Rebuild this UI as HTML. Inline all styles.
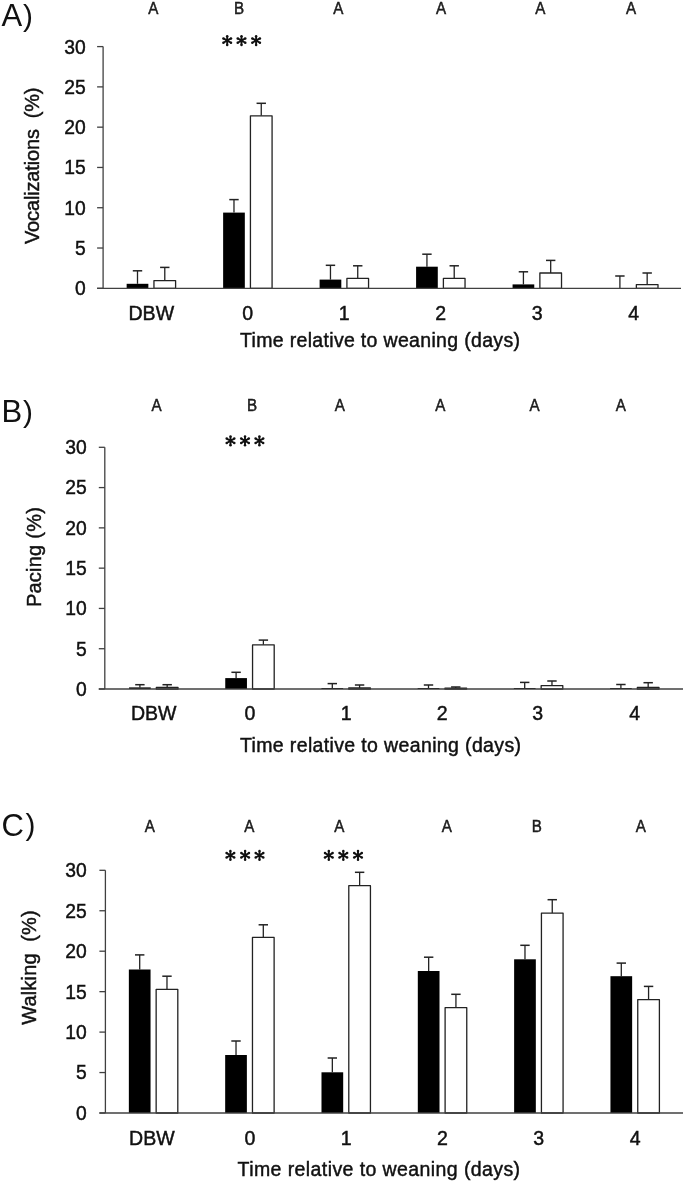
<!DOCTYPE html>
<html><head><meta charset="utf-8"><style>
html,body{margin:0;padding:0;background:#fff;}
body{width:685px;height:1183px;overflow:hidden;}
svg{display:block;font-family:"Liberation Sans", sans-serif;filter:blur(0.45px);}
text{stroke:#111;stroke-width:0.45px;}
</style></head><body>
<svg width="685" height="1183" viewBox="0 0 685 1183">
<rect width="685" height="1183" fill="#fff"/>
<text x="1.5" y="25.9" font-size="31" fill="#111" style="stroke-width:0">A</text>
<text x="23.1" y="25.599999999999998" font-size="29.8" fill="#111" style="stroke-width:0">)</text>
<text transform="translate(153.2,13.8) scale(0.92,1)" font-size="16.5" text-anchor="middle" fill="#222">A</text>
<text transform="translate(239.1,13.8) scale(0.92,1)" font-size="16.5" text-anchor="middle" fill="#222">B</text>
<text transform="translate(338.4,13.8) scale(0.92,1)" font-size="16.5" text-anchor="middle" fill="#222">A</text>
<text transform="translate(441.1,13.8) scale(0.92,1)" font-size="16.5" text-anchor="middle" fill="#222">A</text>
<text transform="translate(540.2,13.8) scale(0.92,1)" font-size="16.5" text-anchor="middle" fill="#222">A</text>
<text transform="translate(631.1,13.8) scale(0.92,1)" font-size="16.5" text-anchor="middle" fill="#222">A</text>
<path d="M227.20,36.20L227.20,45.00M223.39,38.40L231.01,42.80M231.01,38.40L223.39,42.80" stroke="#111" stroke-width="1.9"/><circle cx="227.2" cy="40.6" r="1.5" fill="#111"/><circle cx="227.20" cy="36.20" r="1.25" fill="#111"/><circle cx="227.20" cy="45.00" r="1.25" fill="#111"/><circle cx="223.39" cy="38.40" r="1.25" fill="#111"/><circle cx="231.01" cy="42.80" r="1.25" fill="#111"/><circle cx="231.01" cy="38.40" r="1.25" fill="#111"/><circle cx="223.39" cy="42.80" r="1.25" fill="#111"/>
<path d="M241.50,36.20L241.50,45.00M237.69,38.40L245.31,42.80M245.31,38.40L237.69,42.80" stroke="#111" stroke-width="1.9"/><circle cx="241.5" cy="40.6" r="1.5" fill="#111"/><circle cx="241.50" cy="36.20" r="1.25" fill="#111"/><circle cx="241.50" cy="45.00" r="1.25" fill="#111"/><circle cx="237.69" cy="38.40" r="1.25" fill="#111"/><circle cx="245.31" cy="42.80" r="1.25" fill="#111"/><circle cx="245.31" cy="38.40" r="1.25" fill="#111"/><circle cx="237.69" cy="42.80" r="1.25" fill="#111"/>
<path d="M256.10,36.20L256.10,45.00M252.29,38.40L259.91,42.80M259.91,38.40L252.29,42.80" stroke="#111" stroke-width="1.9"/><circle cx="256.1" cy="40.6" r="1.5" fill="#111"/><circle cx="256.10" cy="36.20" r="1.25" fill="#111"/><circle cx="256.10" cy="45.00" r="1.25" fill="#111"/><circle cx="252.29" cy="38.40" r="1.25" fill="#111"/><circle cx="259.91" cy="42.80" r="1.25" fill="#111"/><circle cx="259.91" cy="38.40" r="1.25" fill="#111"/><circle cx="252.29" cy="42.80" r="1.25" fill="#111"/>
<line x1="103.1" y1="46.6" x2="103.1" y2="288.3" stroke="#404040" stroke-width="1.3"/>
<line x1="97.1" y1="288.30" x2="103.1" y2="288.30" stroke="#404040" stroke-width="1.3"/>
<text transform="translate(85.8,295.20) scale(1.0,1)" font-size="19.3" text-anchor="end" fill="#111">0</text>
<line x1="97.1" y1="248.02" x2="103.1" y2="248.02" stroke="#404040" stroke-width="1.3"/>
<text transform="translate(85.8,254.92) scale(1.0,1)" font-size="19.3" text-anchor="end" fill="#111">5</text>
<line x1="97.1" y1="207.73" x2="103.1" y2="207.73" stroke="#404040" stroke-width="1.3"/>
<text transform="translate(85.8,214.63) scale(1.0,1)" font-size="19.3" text-anchor="end" fill="#111">10</text>
<line x1="97.1" y1="167.45" x2="103.1" y2="167.45" stroke="#404040" stroke-width="1.3"/>
<text transform="translate(85.8,174.35) scale(1.0,1)" font-size="19.3" text-anchor="end" fill="#111">15</text>
<line x1="97.1" y1="127.17" x2="103.1" y2="127.17" stroke="#404040" stroke-width="1.3"/>
<text transform="translate(85.8,134.07) scale(1.0,1)" font-size="19.3" text-anchor="end" fill="#111">20</text>
<line x1="97.1" y1="86.88" x2="103.1" y2="86.88" stroke="#404040" stroke-width="1.3"/>
<text transform="translate(85.8,93.78) scale(1.0,1)" font-size="19.3" text-anchor="end" fill="#111">25</text>
<line x1="97.1" y1="46.60" x2="103.1" y2="46.60" stroke="#404040" stroke-width="1.3"/>
<text transform="translate(85.8,53.50) scale(1.0,1)" font-size="19.3" text-anchor="end" fill="#111">30</text>
<text transform="translate(39.0,244.0) rotate(-90)" x="0" y="0" font-size="20" fill="#111" textLength="156.5" lengthAdjust="spacing">Vocalizations  (%)</text>
<line x1="137.50" y1="283.80" x2="137.50" y2="270.80" stroke="#222" stroke-width="1.3"/>
<line x1="132.80" y1="270.80" x2="142.20" y2="270.80" stroke="#222" stroke-width="1.5"/>
<line x1="164.78" y1="280.60" x2="164.78" y2="267.40" stroke="#222" stroke-width="1.3"/>
<line x1="160.08" y1="267.40" x2="169.48" y2="267.40" stroke="#222" stroke-width="1.5"/>
<rect x="126.65" y="283.80" width="21.70" height="4.50" fill="#000"/>
<rect x="153.95" y="280.60" width="21.65" height="7.70" fill="#fff" stroke="#222" stroke-width="1.3" stroke-linejoin="round"/>
<text transform="translate(151.30,319.7) scale(1.013,1)" font-size="19.3" text-anchor="middle" fill="#111">DBW</text>
<line x1="233.98" y1="212.60" x2="233.98" y2="199.60" stroke="#222" stroke-width="1.3"/>
<line x1="229.28" y1="199.60" x2="238.68" y2="199.60" stroke="#222" stroke-width="1.5"/>
<line x1="261.26" y1="115.80" x2="261.26" y2="103.30" stroke="#222" stroke-width="1.3"/>
<line x1="256.56" y1="103.30" x2="265.96" y2="103.30" stroke="#222" stroke-width="1.5"/>
<rect x="223.13" y="212.60" width="21.70" height="75.70" fill="#000"/>
<rect x="250.43" y="115.80" width="21.65" height="172.50" fill="#fff" stroke="#222" stroke-width="1.3" stroke-linejoin="round"/>
<text transform="translate(247.78,319.7) scale(1.013,1)" font-size="19.3" text-anchor="middle" fill="#111">0</text>
<line x1="330.46" y1="279.60" x2="330.46" y2="265.30" stroke="#222" stroke-width="1.3"/>
<line x1="325.76" y1="265.30" x2="335.16" y2="265.30" stroke="#222" stroke-width="1.5"/>
<line x1="357.74" y1="278.40" x2="357.74" y2="265.80" stroke="#222" stroke-width="1.3"/>
<line x1="353.04" y1="265.80" x2="362.44" y2="265.80" stroke="#222" stroke-width="1.5"/>
<rect x="319.61" y="279.60" width="21.70" height="8.70" fill="#000"/>
<rect x="346.91" y="278.40" width="21.65" height="9.90" fill="#fff" stroke="#222" stroke-width="1.3" stroke-linejoin="round"/>
<text transform="translate(344.26,319.7) scale(1.013,1)" font-size="19.3" text-anchor="middle" fill="#111">1</text>
<line x1="426.94" y1="266.70" x2="426.94" y2="254.20" stroke="#222" stroke-width="1.3"/>
<line x1="422.24" y1="254.20" x2="431.64" y2="254.20" stroke="#222" stroke-width="1.5"/>
<line x1="454.22" y1="278.40" x2="454.22" y2="265.80" stroke="#222" stroke-width="1.3"/>
<line x1="449.52" y1="265.80" x2="458.92" y2="265.80" stroke="#222" stroke-width="1.5"/>
<rect x="416.09" y="266.70" width="21.70" height="21.60" fill="#000"/>
<rect x="443.39" y="278.40" width="21.65" height="9.90" fill="#fff" stroke="#222" stroke-width="1.3" stroke-linejoin="round"/>
<text transform="translate(440.74,319.7) scale(1.013,1)" font-size="19.3" text-anchor="middle" fill="#111">2</text>
<line x1="523.42" y1="284.40" x2="523.42" y2="271.80" stroke="#222" stroke-width="1.3"/>
<line x1="518.72" y1="271.80" x2="528.12" y2="271.80" stroke="#222" stroke-width="1.5"/>
<line x1="550.69" y1="273.00" x2="550.69" y2="260.40" stroke="#222" stroke-width="1.3"/>
<line x1="545.99" y1="260.40" x2="555.39" y2="260.40" stroke="#222" stroke-width="1.5"/>
<rect x="512.57" y="284.40" width="21.70" height="3.90" fill="#000"/>
<rect x="539.87" y="273.00" width="21.65" height="15.30" fill="#fff" stroke="#222" stroke-width="1.3" stroke-linejoin="round"/>
<text transform="translate(537.22,319.7) scale(1.013,1)" font-size="19.3" text-anchor="middle" fill="#111">3</text>
<line x1="619.90" y1="288.30" x2="619.90" y2="276.00" stroke="#222" stroke-width="1.3"/>
<line x1="615.20" y1="276.00" x2="624.60" y2="276.00" stroke="#222" stroke-width="1.5"/>
<line x1="647.17" y1="284.60" x2="647.17" y2="273.00" stroke="#222" stroke-width="1.3"/>
<line x1="642.47" y1="273.00" x2="651.88" y2="273.00" stroke="#222" stroke-width="1.5"/>
<rect x="636.35" y="284.60" width="21.65" height="3.70" fill="#fff" stroke="#222" stroke-width="1.3" stroke-linejoin="round"/>
<text transform="translate(633.70,319.7) scale(1.013,1)" font-size="19.3" text-anchor="middle" fill="#111">4</text>
<line x1="97.1" y1="288.3" x2="681" y2="288.3" stroke="#404040" stroke-width="1.3"/>
<text x="240.0" y="347.0" font-size="19.5" fill="#111" textLength="280.0" lengthAdjust="spacing">Time relative to weaning (days)</text>
<text x="1.5" y="421.8" font-size="31" fill="#111" style="stroke-width:0">B</text>
<text x="23.1" y="421.5" font-size="29.8" fill="#111" style="stroke-width:0">)</text>
<text transform="translate(156.6,411.2) scale(0.92,1)" font-size="16.5" text-anchor="middle" fill="#222">A</text>
<text transform="translate(252.0,411.2) scale(0.92,1)" font-size="16.5" text-anchor="middle" fill="#222">B</text>
<text transform="translate(339.7,411.2) scale(0.92,1)" font-size="16.5" text-anchor="middle" fill="#222">A</text>
<text transform="translate(440.2,411.2) scale(0.92,1)" font-size="16.5" text-anchor="middle" fill="#222">A</text>
<text transform="translate(534.6,411.2) scale(0.92,1)" font-size="16.5" text-anchor="middle" fill="#222">A</text>
<text transform="translate(620.9,411.2) scale(0.92,1)" font-size="16.5" text-anchor="middle" fill="#222">A</text>
<path d="M230.50,436.40L230.50,445.20M226.69,438.60L234.31,443.00M234.31,438.60L226.69,443.00" stroke="#111" stroke-width="1.9"/><circle cx="230.5" cy="440.8" r="1.5" fill="#111"/><circle cx="230.50" cy="436.40" r="1.25" fill="#111"/><circle cx="230.50" cy="445.20" r="1.25" fill="#111"/><circle cx="226.69" cy="438.60" r="1.25" fill="#111"/><circle cx="234.31" cy="443.00" r="1.25" fill="#111"/><circle cx="234.31" cy="438.60" r="1.25" fill="#111"/><circle cx="226.69" cy="443.00" r="1.25" fill="#111"/>
<path d="M245.00,436.40L245.00,445.20M241.19,438.60L248.81,443.00M248.81,438.60L241.19,443.00" stroke="#111" stroke-width="1.9"/><circle cx="245.0" cy="440.8" r="1.5" fill="#111"/><circle cx="245.00" cy="436.40" r="1.25" fill="#111"/><circle cx="245.00" cy="445.20" r="1.25" fill="#111"/><circle cx="241.19" cy="438.60" r="1.25" fill="#111"/><circle cx="248.81" cy="443.00" r="1.25" fill="#111"/><circle cx="248.81" cy="438.60" r="1.25" fill="#111"/><circle cx="241.19" cy="443.00" r="1.25" fill="#111"/>
<path d="M259.40,436.40L259.40,445.20M255.59,438.60L263.21,443.00M263.21,438.60L255.59,443.00" stroke="#111" stroke-width="1.9"/><circle cx="259.4" cy="440.8" r="1.5" fill="#111"/><circle cx="259.40" cy="436.40" r="1.25" fill="#111"/><circle cx="259.40" cy="445.20" r="1.25" fill="#111"/><circle cx="255.59" cy="438.60" r="1.25" fill="#111"/><circle cx="263.21" cy="443.00" r="1.25" fill="#111"/><circle cx="263.21" cy="438.60" r="1.25" fill="#111"/><circle cx="255.59" cy="443.00" r="1.25" fill="#111"/>
<line x1="104.8" y1="447.3" x2="104.8" y2="689.0" stroke="#404040" stroke-width="1.3"/>
<line x1="98.8" y1="689.00" x2="104.8" y2="689.00" stroke="#404040" stroke-width="1.3"/>
<text transform="translate(86.8,695.90) scale(1.0,1)" font-size="19.3" text-anchor="end" fill="#111">0</text>
<line x1="98.8" y1="648.72" x2="104.8" y2="648.72" stroke="#404040" stroke-width="1.3"/>
<text transform="translate(86.8,655.62) scale(1.0,1)" font-size="19.3" text-anchor="end" fill="#111">5</text>
<line x1="98.8" y1="608.43" x2="104.8" y2="608.43" stroke="#404040" stroke-width="1.3"/>
<text transform="translate(86.8,615.33) scale(1.0,1)" font-size="19.3" text-anchor="end" fill="#111">10</text>
<line x1="98.8" y1="568.15" x2="104.8" y2="568.15" stroke="#404040" stroke-width="1.3"/>
<text transform="translate(86.8,575.05) scale(1.0,1)" font-size="19.3" text-anchor="end" fill="#111">15</text>
<line x1="98.8" y1="527.87" x2="104.8" y2="527.87" stroke="#404040" stroke-width="1.3"/>
<text transform="translate(86.8,534.77) scale(1.0,1)" font-size="19.3" text-anchor="end" fill="#111">20</text>
<line x1="98.8" y1="487.58" x2="104.8" y2="487.58" stroke="#404040" stroke-width="1.3"/>
<text transform="translate(86.8,494.48) scale(1.0,1)" font-size="19.3" text-anchor="end" fill="#111">25</text>
<line x1="98.8" y1="447.30" x2="104.8" y2="447.30" stroke="#404040" stroke-width="1.3"/>
<text transform="translate(86.8,454.20) scale(1.0,1)" font-size="19.3" text-anchor="end" fill="#111">30</text>
<text transform="translate(40.6,607.1) rotate(-90)" x="0" y="0" font-size="20" fill="#111" textLength="100.0" lengthAdjust="spacing">Pacing (%)</text>
<line x1="139.90" y1="687.40" x2="139.90" y2="684.70" stroke="#222" stroke-width="1.3"/>
<line x1="135.20" y1="684.70" x2="144.60" y2="684.70" stroke="#222" stroke-width="1.5"/>
<line x1="167.18" y1="687.30" x2="167.18" y2="684.70" stroke="#222" stroke-width="1.3"/>
<line x1="162.48" y1="684.70" x2="171.88" y2="684.70" stroke="#222" stroke-width="1.5"/>
<rect x="129.05" y="687.40" width="21.70" height="1.60" fill="#000"/>
<rect x="156.35" y="687.30" width="21.65" height="1.70" fill="#fff" stroke="#222" stroke-width="1.3" stroke-linejoin="round"/>
<text transform="translate(153.70,720.0) scale(1.013,1)" font-size="19.3" text-anchor="middle" fill="#111">DBW</text>
<line x1="236.10" y1="678.10" x2="236.10" y2="672.30" stroke="#222" stroke-width="1.3"/>
<line x1="231.40" y1="672.30" x2="240.80" y2="672.30" stroke="#222" stroke-width="1.5"/>
<line x1="263.38" y1="644.80" x2="263.38" y2="640.10" stroke="#222" stroke-width="1.3"/>
<line x1="258.68" y1="640.10" x2="268.07" y2="640.10" stroke="#222" stroke-width="1.5"/>
<rect x="225.25" y="678.10" width="21.70" height="10.90" fill="#000"/>
<rect x="252.55" y="644.80" width="21.65" height="44.20" fill="#fff" stroke="#222" stroke-width="1.3" stroke-linejoin="round"/>
<text transform="translate(249.90,720.0) scale(1.013,1)" font-size="19.3" text-anchor="middle" fill="#111">0</text>
<line x1="332.30" y1="688.00" x2="332.30" y2="683.60" stroke="#222" stroke-width="1.3"/>
<line x1="327.60" y1="683.60" x2="337.00" y2="683.60" stroke="#222" stroke-width="1.5"/>
<line x1="359.58" y1="688.00" x2="359.58" y2="685.00" stroke="#222" stroke-width="1.3"/>
<line x1="354.88" y1="685.00" x2="364.28" y2="685.00" stroke="#222" stroke-width="1.5"/>
<rect x="321.45" y="688.00" width="21.70" height="1.00" fill="#000"/>
<rect x="348.75" y="688.00" width="21.65" height="1.00" fill="#fff" stroke="#222" stroke-width="1.3" stroke-linejoin="round"/>
<text transform="translate(346.10,720.0) scale(1.013,1)" font-size="19.3" text-anchor="middle" fill="#111">1</text>
<line x1="428.50" y1="688.00" x2="428.50" y2="685.00" stroke="#222" stroke-width="1.3"/>
<line x1="423.80" y1="685.00" x2="433.20" y2="685.00" stroke="#222" stroke-width="1.5"/>
<line x1="455.77" y1="688.20" x2="455.77" y2="687.00" stroke="#222" stroke-width="1.3"/>
<line x1="451.07" y1="687.00" x2="460.47" y2="687.00" stroke="#222" stroke-width="1.5"/>
<rect x="417.65" y="688.00" width="21.70" height="1.00" fill="#000"/>
<rect x="444.95" y="688.20" width="21.65" height="0.80" fill="#fff" stroke="#222" stroke-width="1.3" stroke-linejoin="round"/>
<text transform="translate(442.30,720.0) scale(1.013,1)" font-size="19.3" text-anchor="middle" fill="#111">2</text>
<line x1="524.70" y1="688.00" x2="524.70" y2="682.40" stroke="#222" stroke-width="1.3"/>
<line x1="520.00" y1="682.40" x2="529.40" y2="682.40" stroke="#222" stroke-width="1.5"/>
<line x1="551.97" y1="685.60" x2="551.97" y2="681.00" stroke="#222" stroke-width="1.3"/>
<line x1="547.27" y1="681.00" x2="556.67" y2="681.00" stroke="#222" stroke-width="1.5"/>
<rect x="513.85" y="688.00" width="21.70" height="1.00" fill="#000"/>
<rect x="541.15" y="685.60" width="21.65" height="3.40" fill="#fff" stroke="#222" stroke-width="1.3" stroke-linejoin="round"/>
<text transform="translate(537.70,720.0) scale(1.013,1)" font-size="19.3" text-anchor="middle" fill="#111">3</text>
<line x1="620.90" y1="688.00" x2="620.90" y2="684.50" stroke="#222" stroke-width="1.3"/>
<line x1="616.20" y1="684.50" x2="625.60" y2="684.50" stroke="#222" stroke-width="1.5"/>
<line x1="648.17" y1="687.40" x2="648.17" y2="682.70" stroke="#222" stroke-width="1.3"/>
<line x1="643.47" y1="682.70" x2="652.88" y2="682.70" stroke="#222" stroke-width="1.5"/>
<rect x="610.05" y="688.00" width="21.70" height="1.00" fill="#000"/>
<rect x="637.35" y="687.40" width="21.65" height="1.60" fill="#fff" stroke="#222" stroke-width="1.3" stroke-linejoin="round"/>
<text transform="translate(634.70,720.0) scale(1.013,1)" font-size="19.3" text-anchor="middle" fill="#111">4</text>
<line x1="98.8" y1="689.0" x2="683" y2="689.0" stroke="#404040" stroke-width="1.3"/>
<text x="240.0" y="751.5" font-size="19.5" fill="#111" textLength="281.0" lengthAdjust="spacing">Time relative to weaning (days)</text>
<text x="1.5" y="835.5" font-size="31" fill="#111" style="stroke-width:0">C</text>
<text x="25.5" y="835.2" font-size="29.8" fill="#111" style="stroke-width:0">)</text>
<text transform="translate(149.9,832.3) scale(0.92,1)" font-size="16.5" text-anchor="middle" fill="#222">A</text>
<text transform="translate(249.3,832.3) scale(0.92,1)" font-size="16.5" text-anchor="middle" fill="#222">A</text>
<text transform="translate(339.2,832.3) scale(0.92,1)" font-size="16.5" text-anchor="middle" fill="#222">A</text>
<text transform="translate(446.7,832.3) scale(0.92,1)" font-size="16.5" text-anchor="middle" fill="#222">A</text>
<text transform="translate(536.8,832.3) scale(0.92,1)" font-size="16.5" text-anchor="middle" fill="#222">B</text>
<text transform="translate(640.9,832.3) scale(0.92,1)" font-size="16.5" text-anchor="middle" fill="#222">A</text>
<path d="M230.40,850.90L230.40,859.70M226.59,853.10L234.21,857.50M234.21,853.10L226.59,857.50" stroke="#111" stroke-width="1.9"/><circle cx="230.4" cy="855.3" r="1.5" fill="#111"/><circle cx="230.40" cy="850.90" r="1.25" fill="#111"/><circle cx="230.40" cy="859.70" r="1.25" fill="#111"/><circle cx="226.59" cy="853.10" r="1.25" fill="#111"/><circle cx="234.21" cy="857.50" r="1.25" fill="#111"/><circle cx="234.21" cy="853.10" r="1.25" fill="#111"/><circle cx="226.59" cy="857.50" r="1.25" fill="#111"/>
<path d="M245.10,850.90L245.10,859.70M241.29,853.10L248.91,857.50M248.91,853.10L241.29,857.50" stroke="#111" stroke-width="1.9"/><circle cx="245.1" cy="855.3" r="1.5" fill="#111"/><circle cx="245.10" cy="850.90" r="1.25" fill="#111"/><circle cx="245.10" cy="859.70" r="1.25" fill="#111"/><circle cx="241.29" cy="853.10" r="1.25" fill="#111"/><circle cx="248.91" cy="857.50" r="1.25" fill="#111"/><circle cx="248.91" cy="853.10" r="1.25" fill="#111"/><circle cx="241.29" cy="857.50" r="1.25" fill="#111"/>
<path d="M259.50,850.90L259.50,859.70M255.69,853.10L263.31,857.50M263.31,853.10L255.69,857.50" stroke="#111" stroke-width="1.9"/><circle cx="259.5" cy="855.3" r="1.5" fill="#111"/><circle cx="259.50" cy="850.90" r="1.25" fill="#111"/><circle cx="259.50" cy="859.70" r="1.25" fill="#111"/><circle cx="255.69" cy="853.10" r="1.25" fill="#111"/><circle cx="263.31" cy="857.50" r="1.25" fill="#111"/><circle cx="263.31" cy="853.10" r="1.25" fill="#111"/><circle cx="255.69" cy="857.50" r="1.25" fill="#111"/>
<path d="M328.80,850.90L328.80,859.70M324.99,853.10L332.61,857.50M332.61,853.10L324.99,857.50" stroke="#111" stroke-width="1.9"/><circle cx="328.8" cy="855.3" r="1.5" fill="#111"/><circle cx="328.80" cy="850.90" r="1.25" fill="#111"/><circle cx="328.80" cy="859.70" r="1.25" fill="#111"/><circle cx="324.99" cy="853.10" r="1.25" fill="#111"/><circle cx="332.61" cy="857.50" r="1.25" fill="#111"/><circle cx="332.61" cy="853.10" r="1.25" fill="#111"/><circle cx="324.99" cy="857.50" r="1.25" fill="#111"/>
<path d="M343.30,850.90L343.30,859.70M339.49,853.10L347.11,857.50M347.11,853.10L339.49,857.50" stroke="#111" stroke-width="1.9"/><circle cx="343.3" cy="855.3" r="1.5" fill="#111"/><circle cx="343.30" cy="850.90" r="1.25" fill="#111"/><circle cx="343.30" cy="859.70" r="1.25" fill="#111"/><circle cx="339.49" cy="853.10" r="1.25" fill="#111"/><circle cx="347.11" cy="857.50" r="1.25" fill="#111"/><circle cx="347.11" cy="853.10" r="1.25" fill="#111"/><circle cx="339.49" cy="857.50" r="1.25" fill="#111"/>
<path d="M358.00,850.90L358.00,859.70M354.19,853.10L361.81,857.50M361.81,853.10L354.19,857.50" stroke="#111" stroke-width="1.9"/><circle cx="358.0" cy="855.3" r="1.5" fill="#111"/><circle cx="358.00" cy="850.90" r="1.25" fill="#111"/><circle cx="358.00" cy="859.70" r="1.25" fill="#111"/><circle cx="354.19" cy="853.10" r="1.25" fill="#111"/><circle cx="361.81" cy="857.50" r="1.25" fill="#111"/><circle cx="361.81" cy="853.10" r="1.25" fill="#111"/><circle cx="354.19" cy="857.50" r="1.25" fill="#111"/>
<line x1="105.4" y1="870.3" x2="105.4" y2="1113.0" stroke="#404040" stroke-width="1.3"/>
<line x1="99.4" y1="1113.00" x2="105.4" y2="1113.00" stroke="#404040" stroke-width="1.3"/>
<text transform="translate(86.7,1119.90) scale(1.0,1)" font-size="19.3" text-anchor="end" fill="#111">0</text>
<line x1="99.4" y1="1072.55" x2="105.4" y2="1072.55" stroke="#404040" stroke-width="1.3"/>
<text transform="translate(86.7,1079.45) scale(1.0,1)" font-size="19.3" text-anchor="end" fill="#111">5</text>
<line x1="99.4" y1="1032.10" x2="105.4" y2="1032.10" stroke="#404040" stroke-width="1.3"/>
<text transform="translate(86.7,1039.00) scale(1.0,1)" font-size="19.3" text-anchor="end" fill="#111">10</text>
<line x1="99.4" y1="991.65" x2="105.4" y2="991.65" stroke="#404040" stroke-width="1.3"/>
<text transform="translate(86.7,998.55) scale(1.0,1)" font-size="19.3" text-anchor="end" fill="#111">15</text>
<line x1="99.4" y1="951.20" x2="105.4" y2="951.20" stroke="#404040" stroke-width="1.3"/>
<text transform="translate(86.7,958.10) scale(1.0,1)" font-size="19.3" text-anchor="end" fill="#111">20</text>
<line x1="99.4" y1="910.75" x2="105.4" y2="910.75" stroke="#404040" stroke-width="1.3"/>
<text transform="translate(86.7,917.65) scale(1.0,1)" font-size="19.3" text-anchor="end" fill="#111">25</text>
<line x1="99.4" y1="870.30" x2="105.4" y2="870.30" stroke="#404040" stroke-width="1.3"/>
<text transform="translate(86.7,877.20) scale(1.0,1)" font-size="19.3" text-anchor="end" fill="#111">30</text>
<text transform="translate(36.2,1024.8) rotate(-90)" x="0" y="0" font-size="20" fill="#111" textLength="114.5" lengthAdjust="spacing">Walking  (%)</text>
<line x1="139.70" y1="969.50" x2="139.70" y2="954.90" stroke="#222" stroke-width="1.3"/>
<line x1="135.00" y1="954.90" x2="144.40" y2="954.90" stroke="#222" stroke-width="1.5"/>
<line x1="166.98" y1="989.30" x2="166.98" y2="976.20" stroke="#222" stroke-width="1.3"/>
<line x1="162.28" y1="976.20" x2="171.68" y2="976.20" stroke="#222" stroke-width="1.5"/>
<rect x="128.85" y="969.50" width="21.70" height="143.50" fill="#000"/>
<rect x="156.15" y="989.30" width="21.65" height="123.70" fill="#fff" stroke="#222" stroke-width="1.3" stroke-linejoin="round"/>
<text transform="translate(151.90,1145.2) scale(1.013,1)" font-size="19.3" text-anchor="middle" fill="#111">DBW</text>
<line x1="236.02" y1="1055.00" x2="236.02" y2="1041.00" stroke="#222" stroke-width="1.3"/>
<line x1="231.32" y1="1041.00" x2="240.72" y2="1041.00" stroke="#222" stroke-width="1.5"/>
<line x1="263.30" y1="937.40" x2="263.30" y2="924.80" stroke="#222" stroke-width="1.3"/>
<line x1="258.60" y1="924.80" x2="268.00" y2="924.80" stroke="#222" stroke-width="1.5"/>
<rect x="225.17" y="1055.00" width="21.70" height="58.00" fill="#000"/>
<rect x="252.47" y="937.40" width="21.65" height="175.60" fill="#fff" stroke="#222" stroke-width="1.3" stroke-linejoin="round"/>
<text transform="translate(249.82,1145.2) scale(1.013,1)" font-size="19.3" text-anchor="middle" fill="#111">0</text>
<line x1="332.34" y1="1072.30" x2="332.34" y2="1058.00" stroke="#222" stroke-width="1.3"/>
<line x1="327.64" y1="1058.00" x2="337.04" y2="1058.00" stroke="#222" stroke-width="1.5"/>
<line x1="359.62" y1="885.70" x2="359.62" y2="872.30" stroke="#222" stroke-width="1.3"/>
<line x1="354.92" y1="872.30" x2="364.31" y2="872.30" stroke="#222" stroke-width="1.5"/>
<rect x="321.49" y="1072.30" width="21.70" height="40.70" fill="#000"/>
<rect x="348.79" y="885.70" width="21.65" height="227.30" fill="#fff" stroke="#222" stroke-width="1.3" stroke-linejoin="round"/>
<text transform="translate(346.14,1145.2) scale(1.013,1)" font-size="19.3" text-anchor="middle" fill="#111">1</text>
<line x1="428.66" y1="971.00" x2="428.66" y2="957.20" stroke="#222" stroke-width="1.3"/>
<line x1="423.96" y1="957.20" x2="433.36" y2="957.20" stroke="#222" stroke-width="1.5"/>
<line x1="455.93" y1="1007.70" x2="455.93" y2="994.30" stroke="#222" stroke-width="1.3"/>
<line x1="451.23" y1="994.30" x2="460.63" y2="994.30" stroke="#222" stroke-width="1.5"/>
<rect x="417.81" y="971.00" width="21.70" height="142.00" fill="#000"/>
<rect x="445.11" y="1007.70" width="21.65" height="105.30" fill="#fff" stroke="#222" stroke-width="1.3" stroke-linejoin="round"/>
<text transform="translate(442.46,1145.2) scale(1.013,1)" font-size="19.3" text-anchor="middle" fill="#111">2</text>
<line x1="524.98" y1="959.30" x2="524.98" y2="945.30" stroke="#222" stroke-width="1.3"/>
<line x1="520.28" y1="945.30" x2="529.68" y2="945.30" stroke="#222" stroke-width="1.5"/>
<line x1="552.25" y1="913.10" x2="552.25" y2="899.70" stroke="#222" stroke-width="1.3"/>
<line x1="547.55" y1="899.70" x2="556.95" y2="899.70" stroke="#222" stroke-width="1.5"/>
<rect x="514.13" y="959.30" width="21.70" height="153.70" fill="#000"/>
<rect x="541.43" y="913.10" width="21.65" height="199.90" fill="#fff" stroke="#222" stroke-width="1.3" stroke-linejoin="round"/>
<text transform="translate(538.78,1145.2) scale(1.013,1)" font-size="19.3" text-anchor="middle" fill="#111">3</text>
<line x1="621.30" y1="976.20" x2="621.30" y2="963.10" stroke="#222" stroke-width="1.3"/>
<line x1="616.60" y1="963.10" x2="626.00" y2="963.10" stroke="#222" stroke-width="1.5"/>
<line x1="648.57" y1="999.60" x2="648.57" y2="986.40" stroke="#222" stroke-width="1.3"/>
<line x1="643.87" y1="986.40" x2="653.27" y2="986.40" stroke="#222" stroke-width="1.5"/>
<rect x="610.45" y="976.20" width="21.70" height="136.80" fill="#000"/>
<rect x="637.75" y="999.60" width="21.65" height="113.40" fill="#fff" stroke="#222" stroke-width="1.3" stroke-linejoin="round"/>
<text transform="translate(635.10,1145.2) scale(1.013,1)" font-size="19.3" text-anchor="middle" fill="#111">4</text>
<line x1="99.4" y1="1113.0" x2="683" y2="1113.0" stroke="#404040" stroke-width="1.3"/>
<text x="237.6" y="1176.2" font-size="19.5" fill="#111" textLength="282.5" lengthAdjust="spacing">Time relative to weaning (days)</text>
</svg>
</body></html>
